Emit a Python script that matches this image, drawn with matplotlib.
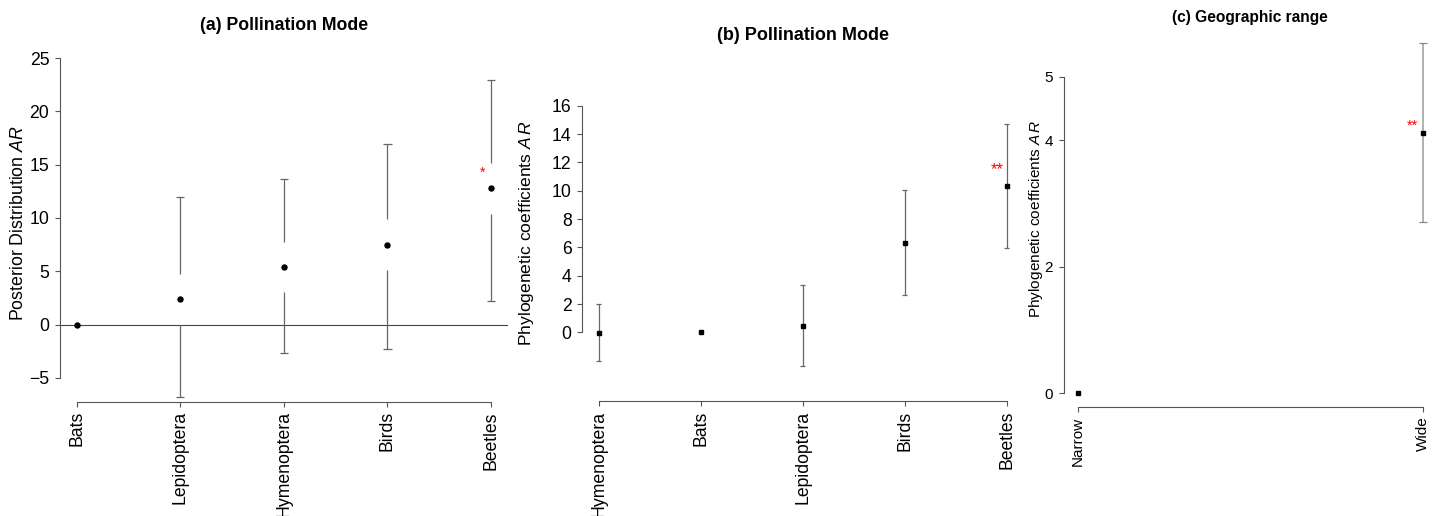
import matplotlib
matplotlib.use("Agg")
import matplotlib.pyplot as plt

plt.rcParams['font.family'] = ['Liberation Sans', 'DejaVu Sans']
plt.rcParams['mathtext.fontset'] = 'custom'
plt.rcParams['mathtext.it'] = 'Liberation Sans:italic'
plt.rcParams['mathtext.rm'] = 'Liberation Sans'

# (a) posterior distribution, pollination mode
a_groups = ['Bats', 'Lepidoptera', 'Hymenoptera', 'Birds', 'Beetles']
a_mean = [0.0, 2.38, 5.39, 7.49, 12.78]
a_low = [None, -6.83, -2.69, -2.29, 2.19]
a_high = [None, 11.97, 13.63, 16.98, 22.95]
a_gap = 2.38
a_star = '*'
a_star_y = 14.2

# (b) phylogenetic coefficients, pollination mode
b_groups = ['Hymenoptera', 'Bats', 'Lepidoptera', 'Birds', 'Beetles']
b_mean = [-0.05, 0.0, 0.47, 6.33, 10.32]
b_low = [-2.03, None, -2.4, 2.61, 5.98]
b_high = [1.98, None, 3.34, 10.03, 14.7]
b_star = '**'
b_star_y = 11.5

# (c) phylogenetic coefficients, geographic range
c_groups = ['Narrow', 'Wide']
c_mean = [0.0, 4.12]
c_low = [None, 2.71]
c_high = [None, 5.53]
c_star = '**'
c_star_y = 4.22

axcol = '#555555'

fig = plt.figure(figsize=(14.41, 5.16), dpi=100)
ax1 = fig.add_axes([0.0417, 0.2215, 0.3106, 0.6917])
ax2 = fig.add_axes([0.4042, 0.2221, 0.3058, 0.6517])
ax3 = fig.add_axes([0.7383, 0.2109, 0.2590, 0.7320])


def style(ax, n, ylim, yticks, fs):
    ax.set_xlim(1 - 0.04 * (n - 1), n + 0.04 * (n - 1))
    ax.set_ylim(*ylim)
    ax.set_yticks(yticks)
    ax.set_yticklabels([str(t).replace('-', '\u2212') for t in yticks])
    ax.set_xticks(range(1, n + 1))
    for s in ['top', 'right']:
        ax.spines[s].set_visible(False)
    ax.spines['left'].set_bounds(yticks[0], yticks[-1])
    ax.spines['bottom'].set_bounds(1, n)
    for s in ['left', 'bottom']:
        ax.spines[s].set_color(axcol)
        ax.spines[s].set_linewidth(0.8)
    ax.tick_params(colors=axcol, labelcolor='black', labelsize=fs,
                   length=3.8, width=0.8)
    ax.tick_params(axis='x', pad=3)
    ax.tick_params(axis='y', pad=4)
    ax.patch.set_visible(False)


# panel (a)
x1 = range(1, len(a_groups) + 1)
style(ax1, len(a_groups), (-7.24, 26.24), [-5, 0, 5, 10, 15, 20, 25], 12.7)
ax1.axhline(0, color='#444444', lw=0.8, zorder=1)
for x, m, lo, hi in zip(x1, a_mean, a_low, a_high):
    if lo is None:
        continue
    ax1.vlines(x, m + a_gap, hi, color='#666666', lw=0.9)
    ax1.vlines(x, lo, m - a_gap, color='#666666', lw=0.9)
    ax1.hlines([lo, hi], x - 0.04, x + 0.04, color='#666666', lw=0.9)
ax1.plot(list(x1), a_mean, 'o', color='black', ms=3.6, zorder=3)
ax1.text(len(a_groups) - 0.08, a_star_y, a_star, color='red',
         ha='center', va='center', fontsize=10)
ax1.set_xticklabels(a_groups, rotation=90, va='top')
ax1.set_ylabel(r'Posterior Distribution $\it{AR}$', fontsize=12.8)
ax1.yaxis.set_label_coords(-0.094, 0.5)
ax1.yaxis.label.set_va('center')
fig.text(0.197, 0.951, '(a) Pollination Mode', ha='center', va='center',
         fontsize=12.7, fontweight='bold')

# panel (b)
x2 = range(1, len(b_groups) + 1)
style(ax2, len(b_groups), (-4.88, 18.88), [0, 2, 4, 6, 8, 10, 12, 14, 16], 12.7)
for x, m, lo, hi in zip(x2, b_mean, b_low, b_high):
    if lo is None:
        continue
    ax2.vlines(x, lo, hi, color='#666666', lw=0.9)
    ax2.hlines([lo, hi], x - 0.025, x + 0.025, color='#666666', lw=0.9)
ax2.plot(list(x2), b_mean, 's', color='black', ms=3, zorder=3)
ax2.text(len(b_groups) - 0.09, b_star_y, b_star, color='red',
         ha='center', va='center', fontsize=12)
ax2.set_xticklabels(b_groups, rotation=90, va='top')
ax2.set_ylabel(r'Phylogenetic coefficients $\it{A\,R}$', fontsize=12.6)
ax2.yaxis.set_label_coords((526 - 582.4) / 440.6, 0.5)
ax2.yaxis.label.set_va('center')
fig.text(0.557, 0.932, '(b) Pollination Mode', ha='center', va='center',
         fontsize=13, fontweight='bold')

# panel (c)
x3 = range(1, len(c_groups) + 1)
style(ax3, len(c_groups), (-0.22, 5.75), [0, 2, 4, 5], 11)
for x, m, lo, hi in zip(x3, c_mean, c_low, c_high):
    if lo is None:
        continue
    ax3.vlines(x, lo, hi, color='#aaaaaa', lw=1.3)
    ax3.hlines([lo, hi], x - 0.012, x + 0.012, color='#888888', lw=0.9)
ax3.plot(list(x3), c_mean, 's', color='black', ms=2.6, zorder=3)
ax3.text(len(c_groups) - 0.03, c_star_y, c_star, color='red',
         ha='center', va='center', fontsize=10.5)
ax3.set_xticklabels(c_groups, rotation=90, va='top')
ax3.set_ylabel(r'Phylogenetic coefficients $\it{A\,R}$', fontsize=11.1)
ax3.yaxis.set_label_coords((1036 - 1063.9) / 373.2, 0.5)
ax3.yaxis.label.set_va('center')
fig.text(0.8675, 0.967, '(c) Geographic range', ha='center', va='center',
         fontsize=11.2, fontweight='bold')

fig.savefig('out.png', dpi=100)
